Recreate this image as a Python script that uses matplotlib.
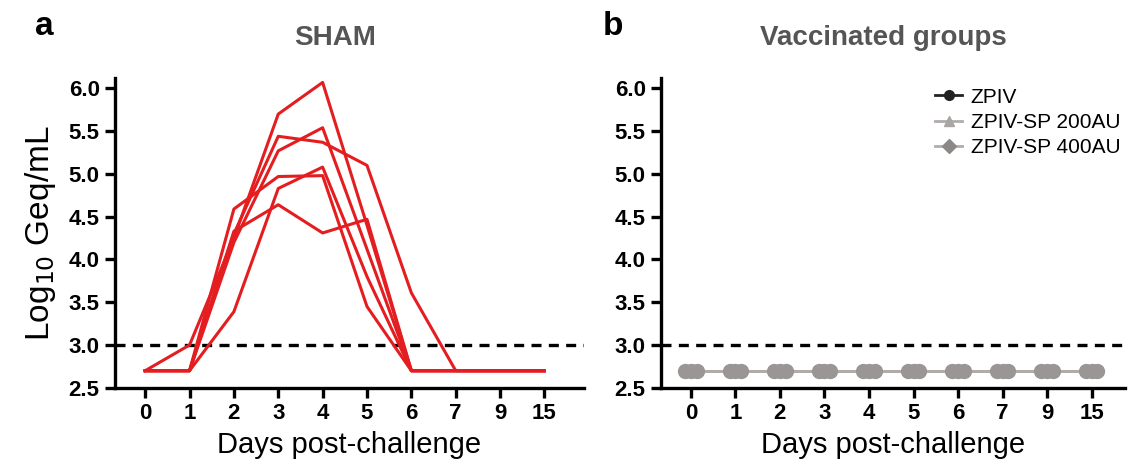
import numpy as np
import matplotlib
matplotlib.use('Agg')
import matplotlib.pyplot as plt
from matplotlib.lines import Line2D

plt.rcParams['font.family'] = ['Liberation Sans', 'DejaVu Sans']

# ---- data -------------------------------------------------------------
days = ['0', '1', '2', '3', '4', '5', '6', '7', '9', '15']

# SHAM animals, log10 Geq/mL (2.7 = below detection)
sham_1 = [2.70, 3.00, 4.25, 5.70, 6.07, 4.40, 2.70, 2.70, 2.70, 2.70]
sham_2 = [2.70, 2.70, 4.20, 5.27, 5.54, 4.12, 2.70, 2.70, 2.70, 2.70]
sham_3 = [2.70, 2.70, 4.30, 5.44, 5.37, 5.10, 3.61, 2.70, 2.70, 2.70]
sham_4 = [2.70, 2.70, 4.59, 4.97, 4.98, 3.45, 2.70, 2.70, 2.70, 2.70]
sham_5 = [2.70, 2.70, 3.39, 4.83, 5.08, 3.80, 2.70, 2.70, 2.70, 2.70]
sham_6 = [2.70, 2.70, 4.33, 4.64, 4.31, 4.47, 2.70, 2.70, 2.70, 2.70]
sham_all = [sham_1, sham_2, sham_3, sham_4, sham_5, sham_6]

# vaccinated groups: all below detection
zpiv       = [2.70] * len(days)
zpiv_sp200 = [2.70] * len(days)
zpiv_sp400 = [2.70] * len(days)

groups = ['ZPIV', 'ZPIV-SP 200AU', 'ZPIV-SP 400AU']
lod = 3.0

RED = '#e41e20'
fig = plt.figure(figsize=(11.33, 4.65), dpi=100)
axA = fig.add_axes([0.1015, 0.166, 0.4139, 0.666])
axB = fig.add_axes([0.5834, 0.166, 0.4096, 0.666])

x = np.arange(len(days))


def style(ax, xlim):
    for s in ['top', 'right']:
        ax.spines[s].set_visible(False)
    for s in ['left', 'bottom']:
        ax.spines[s].set_linewidth(2.4)
    ax.set_ylim(2.5, 6.12)
    ax.set_xlim(*xlim)
    ax.set_yticks([2.5, 3.0, 3.5, 4.0, 4.5, 5.0, 5.5, 6.0])
    ax.set_yticklabels([f'{v:.1f}' for v in ax.get_yticks()])
    ax.set_xticks(x)
    ax.set_xticklabels(days)
    ax.tick_params(width=2.4, length=7, labelsize=16, pad=4)
    for lab in ax.get_xticklabels() + ax.get_yticklabels():
        lab.set_fontweight('bold')
    ax.axhline(lod, color='black', lw=2.4, ls=(0, (3, 2.2)), zorder=1)
    ax.set_xlabel('Days post-challenge', fontsize=21, labelpad=5)


# ---- panel a ----------------------------------------------------------
for vals in sham_all:
    axA.plot(x, vals, color=RED, lw=2.2, zorder=3, clip_on=False)
style(axA, (-0.68, 9.89))
axA.set_ylabel(r'Log$_{10}$ Geq/mL', fontsize=24, labelpad=8)
axA.set_title('SHAM', fontsize=20, fontweight='bold', color='#555555',
              x=0.47, pad=24)

# ---- panel b ----------------------------------------------------------
series = [zpiv, zpiv_sp200, zpiv_sp400]
mk = ['o', '^', 'D']
mcol = ['#222222', '#a9a5a5', '#8c8888']
lcol = ['#222222', '#b2acab', '#b2acab']
offs = [-0.13, 0.0, 0.13]
for vals, m, mc, lc, dx in zip(series, mk, mcol, lcol, offs):
    axB.plot(x + dx, vals, color=lc, lw=2, zorder=2, clip_on=False)
for vals, dx in zip(series, offs):
    axB.plot(x + dx, vals, ls='none', marker='o', ms=10, color='#9a9696',
             zorder=3, clip_on=False)
style(axB, (-0.67, 9.75))
axB.set_title('Vaccinated groups', fontsize=20, fontweight='bold',
              color='#555555', x=0.48, pad=24)

handles = [Line2D([], [], color=lc, marker=m, mfc=mc, mec=mc, lw=2, ms=7)
           for m, mc, lc in zip(mk, mcol, lcol)]
axB.legend(handles, groups, loc='upper right', bbox_to_anchor=(1.03, 1.03),
           frameon=False, fontsize=15, handlelength=1.3, handletextpad=0.4,
           labelspacing=0.3)

fig.text(0.031, 0.925, 'a', fontsize=24, fontweight='bold')
fig.text(0.532, 0.925, 'b', fontsize=24, fontweight='bold')

fig.savefig('out.png', dpi=100)
